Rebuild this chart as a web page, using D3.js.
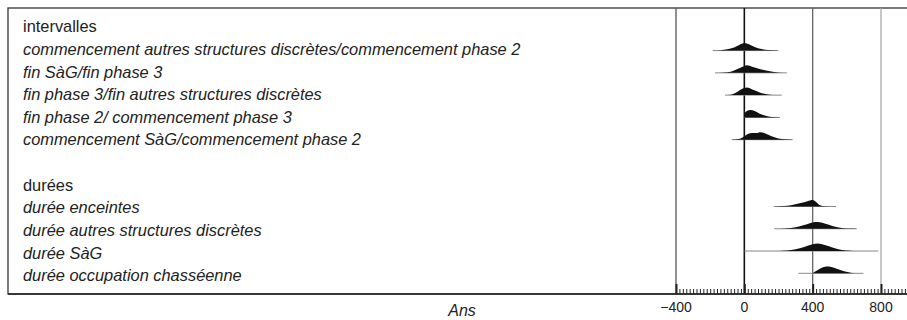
<!DOCTYPE html>
<html>
<head>
<meta charset="utf-8">
<script src="https://cdn.jsdelivr.net/npm/d3@7"></script>
<style>
  body { margin: 0; background: #fff; }
  svg text { font-family: "Liberation Sans", Arial, sans-serif; fill: #222; }
</style>
</head>
<body>
<div id="chart"></div>
<script>
// row labels (index = row position, '' = blank row)
const rowLabels = [
  'intervalles',
  'commencement autres structures discrètes/commencement phase 2',
  'fin SàG/fin phase 3',
  'fin phase 3/fin autres structures discrètes',
  'fin phase 2/ commencement phase 3',
  'commencement SàG/commencement phase 2',
  '',
  'durées',
  'durée enceintes',
  'durée autres structures discrètes',
  'durée SàG',
  'durée occupation chasséenne',
];
const headerRows = [0, 7];

// rows that carry a distribution
const distRows = [1, 2, 3, 4, 5, 8, 9, 10, 11];

// thin range lines (years)
const rangeLo = [-185, -172, -113, 0, -74, 172, 175, 0, 316];
const rangeHi = [199, 249, 219, 209, 283, 537, 658, 785, 697];

// posterior shapes: [year, relative height]
const dist1 = [[-185, 0], [-140, 0.05], [-100, 0.16], [-60, 0.4], [-30, 0.75], [0, 1], [30, 0.8], [60, 0.48], [100, 0.2], [140, 0.06], [199, 0]];
const dist2 = [[-172, 0], [-120, 0.04], [-80, 0.15], [-40, 0.5], [0, 0.9], [15, 1], [50, 0.78], [100, 0.45], [150, 0.2], [200, 0.05], [249, 0]];
const dist3 = [[-113, 0], [-80, 0.05], [-50, 0.3], [-20, 0.75], [15, 1], [50, 0.7], [90, 0.35], [130, 0.12], [170, 0.03], [219, 0]];
const dist4 = [[0, 0], [0, 0.45], [15, 0.85], [35, 1], [60, 0.85], [90, 0.5], [120, 0.25], [160, 0.06], [209, 0]];
const dist5 = [[-74, 0], [-40, 0.05], [-10, 0.3], [20, 0.75], [45, 0.9], [70, 0.9], [95, 1], [120, 0.85], [160, 0.45], [200, 0.15], [240, 0.04], [283, 0]];
const dist8 = [[176, 0], [230, 0.05], [280, 0.2], [330, 0.45], [370, 0.7], [400, 0.85], [420, 0.6], [440, 0.2], [470, 0.03], [537, 0]];
const dist9 = [[176, 0], [240, 0.04], [300, 0.2], [350, 0.5], [400, 0.85], [430, 0.9], [470, 0.7], [520, 0.35], [570, 0.1], [620, 0.02], [658, 0]];
const dist10 = [[200, 0], [250, 0.06], [300, 0.25], [350, 0.55], [400, 0.9], [430, 1], [470, 0.8], [520, 0.45], [570, 0.15], [620, 0.03], [660, 0]];
const dist11 = [[400, 0], [420, 0.3], [450, 0.7], [480, 0.9], [510, 0.85], [550, 0.55], [590, 0.25], [630, 0.05], [660, 0]];
const dists = [dist1, dist2, dist3, dist4, dist5, dist8, dist9, dist10, dist11];

// axis
const majorTicks = [-400, 0, 400, 800];
const tickLabels = ['\u2212400', '0', '400', '800'];
const axisTitle = 'Ans';

const width = 907;
const height = 320;
const frame = { left: 8, top: 8, bottom: 294 };

const svg = d3
  .select('#chart')
  .append('svg')
  .attr('width', width)
  .attr('height', height);

const x = d3.scaleLinear().domain([-400, 800]).range([676, 881]);
const y = d3.scaleLinear().domain([0, 11]).range([28.3, 273.3]);
const h = d3.scaleLinear().domain([0, 1]).range([0, 7.5]);

// frame
svg
  .append('rect')
  .attr('x', frame.left)
  .attr('y', frame.top)
  .attr('width', width)
  .attr('height', frame.bottom - frame.top)
  .attr('fill', 'none')
  .attr('stroke', '#333')
  .attr('stroke-width', 1.3);

// vertical reference lines
const lineColors = ['#555', '#111', '#666', '#aaa'];
svg
  .append('g')
  .selectAll('line')
  .data(majorTicks)
  .enter()
  .append('line')
  .attr('x1', (d) => x(d))
  .attr('x2', (d) => x(d))
  .attr('y1', frame.top)
  .attr('y2', frame.bottom)
  .attr('stroke', (d, i) => lineColors[i])
  .attr('stroke-width', (d) => (d === 0 ? 1.6 : 1.3));

// labels
svg
  .append('g')
  .selectAll('text')
  .data(rowLabels)
  .enter()
  .append('text')
  .attr('x', 23)
  .attr('y', (d, i) => y(i) + 4 + i * 0.35)
  .attr('font-size', 16.4)
  .attr('font-style', (d, i) => (headerRows.includes(i) ? 'normal' : 'italic'))
  .text((d) => d);

// range lines
svg
  .append('g')
  .selectAll('line')
  .data(distRows)
  .enter()
  .append('line')
  .attr('x1', (d, i) => x(rangeLo[i]))
  .attr('x2', (d, i) => x(rangeHi[i]))
  .attr('y1', (d) => y(d))
  .attr('y2', (d) => y(d))
  .attr('stroke', '#888')
  .attr('stroke-width', 1);

// distributions
const area = d3
  .area()
  .x((d) => x(d[0]))
  .y0(0)
  .y1((d) => -h(d[1]))
  .curve(d3.curveMonotoneX);

svg
  .append('g')
  .selectAll('path')
  .data(dists)
  .enter()
  .append('path')
  .attr('transform', (d, i) => `translate(0, ${y(distRows[i])})`)
  .attr('d', area)
  .attr('fill', '#111');

// bottom axis, ticks pointing up
const axisG = svg
  .append('g')
  .attr('transform', `translate(0, ${frame.bottom})`);

axisG
  .append('line')
  .attr('x1', frame.left)
  .attr('x2', width)
  .attr('stroke', '#222')
  .attr('stroke-width', 1.5);

const minorTicks = d3.range(-400, x.invert(width), 20);
axisG
  .append('g')
  .call(d3.axisTop(x).tickValues(minorTicks).tickSize(5).tickFormat(''))
  .call((g) => g.select('.domain').remove())
  .call((g) => g.selectAll('.tick line').attr('stroke', '#222').attr('stroke-width', 1));

axisG
  .append('g')
  .call(d3.axisTop(x).tickValues(majorTicks).tickSize(10).tickFormat(''))
  .call((g) => g.select('.domain').remove())
  .call((g) => g.selectAll('.tick line').attr('stroke', '#222').attr('stroke-width', 2));

axisG
  .append('g')
  .selectAll('text')
  .data(majorTicks)
  .enter()
  .append('text')
  .attr('x', (d) => x(d))
  .attr('y', 18)
  .attr('text-anchor', 'middle')
  .attr('font-size', 14)
  .text((d, i) => tickLabels[i]);

svg
  .append('text')
  .attr('x', 462)
  .attr('y', 316)
  .attr('text-anchor', 'middle')
  .attr('font-size', 16)
  .attr('font-style', 'italic')
  .text(axisTitle);
</script>
</body>
</html>
